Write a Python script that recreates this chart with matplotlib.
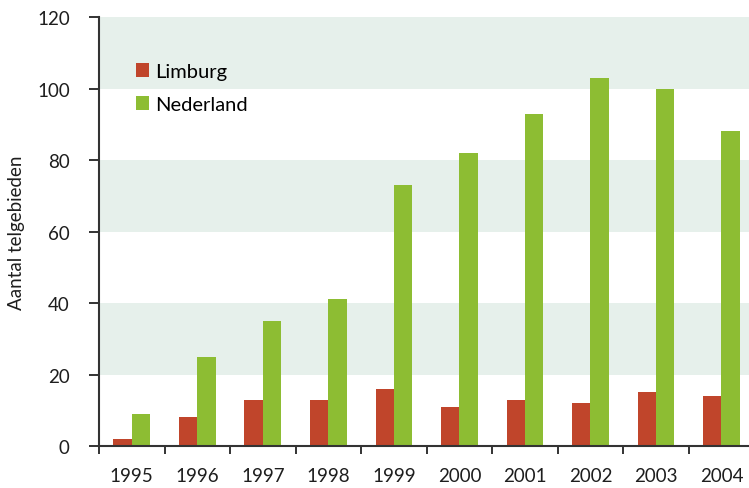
import matplotlib
matplotlib.use("Agg")
import matplotlib.pyplot as plt
import numpy as np
from matplotlib.patches import Patch

years = ["1995", "1996", "1997", "1998", "1999", "2000", "2001", "2002", "2003", "2004"]
limburg = [2, 8, 13, 13, 16, 11, 13, 12, 15, 14]
nederland = [9, 25, 35, 41, 73, 82, 93, 103, 100, 88]
y_ticks = [0, 20, 40, 60, 80, 100, 120]
shaded_bands = [(20, 40), (60, 80), (100, 120)]

RED = "#c0452b"
GREEN = "#8dbd33"
BAND = "#e6f0eb"
AXIS = "#333333"
TEXT = "#1e1e1e"

plt.rcParams["font.family"] = ["Lato", "DejaVu Sans"]

fig = plt.figure(figsize=(7.49, 4.89), dpi=100)
ax = fig.add_axes([0.1322, 0.0859, 0.8678, 0.8771])

for lo, hi in shaded_bands:
    ax.axhspan(lo, hi, color=BAND, zorder=0, lw=0)

x = np.arange(len(years))
w = 0.28
ax.bar(x - w / 2, limburg, width=w, color=RED, zorder=2, label="Limburg")
ax.bar(x + w / 2, nederland, width=w, color=GREEN, zorder=2, label="Nederland")

ax.set_xlim(-0.5, 9.42)
ax.set_ylim(0, 120)

ax.set_yticks(y_ticks)
ax.set_yticklabels([str(v) for v in y_ticks])
ax.set_xticks(x)
ax.set_xticklabels(years)
ax.set_xticks(x - 0.5, minor=True)

ax.tick_params(axis="y", length=7, width=1.4, color=AXIS, pad=14,
               labelsize=13.5, labelcolor=TEXT)
ax.tick_params(axis="x", which="major", length=0, pad=15,
               labelsize=13.5, labelcolor=TEXT)
ax.tick_params(axis="x", which="minor", length=6, width=1.4, color=AXIS,
               direction="out")

for side in ("top", "right"):
    ax.spines[side].set_visible(False)
for side in ("left", "bottom"):
    ax.spines[side].set_color(AXIS)
    ax.spines[side].set_linewidth(1.5)
    ax.spines[side].set_zorder(3)

ax.set_ylabel("Aantal telgebieden", fontsize=13.5, color=TEXT, labelpad=9)

handles = [Patch(facecolor=RED, label="Limburg"), Patch(facecolor=GREEN, label="Nederland")]
ax.legend(handles=handles, loc="upper left", bbox_to_anchor=(0.045, 0.912),
          frameon=False, fontsize=14.5, handlelength=0.65, handleheight=0.65,
          handletextpad=0.3, labelspacing=0.8, borderaxespad=0)

fig.savefig("out.png", dpi=100)
